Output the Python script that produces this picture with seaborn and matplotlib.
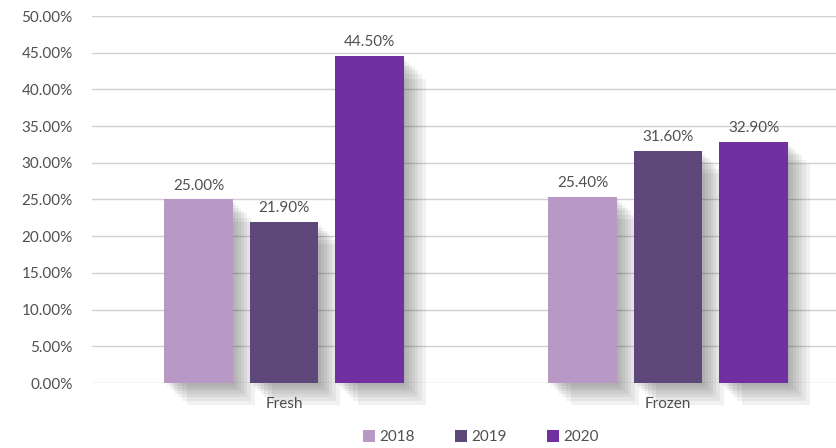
import matplotlib
matplotlib.use("Agg")
import matplotlib.pyplot as plt
import matplotlib.patheffects as pe
import seaborn as sns
import pandas as pd

categories = ["Fresh", "Frozen"]
years = ["2018", "2019", "2020"]
values_2018 = [25.0, 25.4]
values_2019 = [21.9, 31.6]
values_2020 = [44.5, 32.9]
colors = ["#B898C4", "#5E4879", "#7030A0"]

rows = []
for cat_i, cat in enumerate(categories):
    for y, vals in zip(years, [values_2018, values_2019, values_2020]):
        rows.append({"category": cat, "year": y, "value": vals[cat_i]})
df = pd.DataFrame(rows)

sns.set_theme(style="white")
plt.rcParams["font.family"] = ["Lato", "DejaVu Sans"]
text_color = "#505050"

fig = plt.figure(figsize=(8.36, 4.48), dpi=100)
fig.patch.set_facecolor("white")
# axes spans x 92..860 px (right part cropped), y 16..383 px
ax = fig.add_axes([92 / 836, (448 - 383) / 448, 768 / 836, 367 / 448])
ax.set_facecolor("none")

sns.barplot(data=df, x="category", y="value", hue="year", palette=colors,
            width=0.668, gap=0.2, ax=ax, legend=True, saturation=1,
            edgecolor="none", linewidth=0, zorder=3)

for cont in ax.containers:
    ax.bar_label(cont, labels=[f"{v:.2f}%" for v in cont.datavalues],
                 padding=5, fontsize=11, color=text_color)

ax.set_ylim(0, 50)
ax.set_xlim(-0.5, 1.5)
ax.set_yticks(range(0, 51, 5))
ax.set_yticklabels([f"{v:.2f}%" for v in range(0, 51, 5)])
ax.yaxis.grid(True, color="#D0D0D0", linewidth=1.0, zorder=0)
ax.set_axisbelow(True)
for s in ax.spines.values():
    s.set_visible(False)
ax.tick_params(axis="y", length=0, pad=14, labelsize=11, labelcolor=text_color)
ax.tick_params(axis="x", length=0, pad=10, labelsize=11, labelcolor=text_color)
ax.set_xlabel("")
ax.set_ylabel("")

handles, labels = ax.get_legend_handles_labels()
ax.legend_.remove()
fig.legend(handles, labels, loc="center", bbox_to_anchor=(481 / 836, 1 - 437 / 448),
           ncol=3, frameon=False, fontsize=11, labelcolor=text_color,
           handlelength=0.8, handleheight=0.8, handletextpad=0.3, columnspacing=2.6)

# soft drop shadows (applied after legend so legend handles stay plain)
shadow = [pe.SimplePatchShadow(offset=(o, -o), shadow_rgbFace="#404040", alpha=0.07)
          for o in (16, 13, 10, 8, 6, 4, 2)] + [pe.Normal()]
for cont in ax.containers:
    for p in cont.patches:
        p.set_path_effects(shadow)
        p.set_clip_on(False)

fig.savefig("out.png", dpi=100)
